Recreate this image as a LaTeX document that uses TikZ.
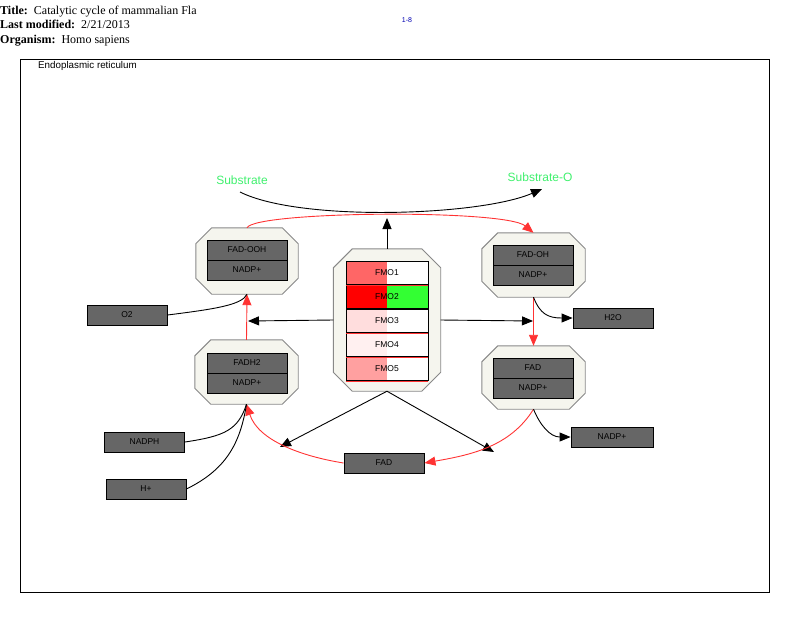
\documentclass[tikz,border=0pt]{standalone}
\usepackage{fontspec}
\setmainfont{Liberation Serif}
\setsansfont{Liberation Sans}
\usetikzlibrary{arrows.meta}
\definecolor{boxgray}{RGB}{102,102,102}
\definecolor{cxfill}{RGB}{245,245,238}
\definecolor{cxline}{RGB}{136,136,136}
\definecolor{rxred}{RGB}{255,51,51}
\definecolor{subgreen}{RGB}{64,240,110}
\definecolor{fmoA}{RGB}{255,102,102}
\definecolor{fmoB}{RGB}{255,0,0}
\definecolor{fmoC}{RGB}{255,221,221}
\definecolor{fmoD}{RGB}{255,240,240}
\definecolor{fmoE}{RGB}{255,160,160}
\definecolor{fmoG}{RGB}{51,255,51}
\tikzset{
  gbox/.style={draw=black, fill=boxgray, line width=0.9pt, minimum width=80pt,
    minimum height=20pt, inner sep=0pt, font=\sffamily\fontsize{8.5}{9}\selectfont},
  cplx/.style={inner sep=0pt},
  fmo/.style 2 args={draw=black, line width=0.9pt, minimum width=82pt,
    minimum height=23pt, inner sep=0pt, font=\sffamily\fontsize{8.5}{9}\selectfont,
    path picture={
      \fill[#1] (path picture bounding box.south west) rectangle (path picture bounding box.north);
      \fill[#2] (path picture bounding box.south) rectangle (path picture bounding box.north east);}},
  blk/.style={line width=0.9pt, -{Triangle[length=11pt,width=9pt]}},
  rxn/.style={line width=0.9pt, rxred, -{Triangle[length=11pt,width=9pt]}},
  plain/.style={line width=0.9pt},
}
\begin{document}
\begin{tikzpicture}[x=1pt,y=-1pt]
\useasboundingbox (0,0) rectangle (799,622);
% header
\node[anchor=base west,inner sep=0pt,font=\fontsize{12}{14}\selectfont] (ttl) at (0,14)
  {\textbf{Title:}\hspace{6pt}Catalytic cycle of mammalian Fla};
\node[anchor=base west,inner sep=0pt,font=\fontsize{12}{14}\selectfont] (lmod) at (0,28)
  {\textbf{Last modified:}\hspace{6pt}2/21/2013};
\node[anchor=base west,inner sep=0pt,font=\fontsize{12}{14}\selectfont] (org) at (0,43)
  {\textbf{Organism:}\hspace{6pt}Homo sapiens};
\node[font=\sffamily\fontsize{7}{8}\selectfont,text=blue!70!black] (pg) at (407,20) {1-8};
% compartment
\draw[line width=0.9pt] (20,59) rectangle (769,592);
\node[anchor=west,inner sep=0pt,font=\sffamily\fontsize{9.8}{11}\selectfont] (er) at (38,66) {Endoplasmic reticulum};
% complexes
\node[cplx,minimum width=102pt,minimum height=66pt] (cxOOH) at (247,261) {};
\node[cplx,minimum width=107pt,minimum height=142pt] (cxFMO) at (387,320) {};
\node[cplx,minimum width=103pt,minimum height=64pt] (cxOH) at (533.5,265) {};
\node[cplx,minimum width=103pt,minimum height=63pt] (cxFAD) at (533.5,377.5) {};
\node[cplx,minimum width=103pt,minimum height=64pt] (cxH2) at (246.5,372) {};
\foreach \c/\k in {cxOOH/16,cxFMO/19,cxOH/16,cxFAD/16,cxH2/16}
  \filldraw[draw=cxline,fill=cxfill,line width=0.9pt]
    ([xshift=\k pt]\c.north west) -- ([xshift=-\k pt]\c.north east)
    -- ([yshift=-\k pt]\c.north east) -- ([yshift=\k pt]\c.south east)
    -- ([xshift=-\k pt]\c.south east) -- ([xshift=\k pt]\c.south west)
    -- ([yshift=\k pt]\c.south west) -- ([yshift=-\k pt]\c.north west) -- cycle;
% complex members
\node[gbox] (ooh1) at (247,250) {FAD-OOH};
\node[gbox] (ooh2) at (247,270) {NADP+};
\node[gbox] (oh1) at (533,255) {FAD-OH};
\node[gbox] (oh2) at (533,275) {NADP+};
\node[gbox] (fad1) at (533,368) {FAD};
\node[gbox] (fad2) at (533,388) {NADP+};
\node[gbox] (h21) at (247,363) {FADH2};
\node[gbox] (h22) at (247,383) {NADP+};
\node[fmo={fmoA}{white}] (fmo1) at (387,273) {FMO1};
\node[fmo={fmoB}{fmoG}] (fmo2) at (387,297) {FMO2};
\node[fmo={fmoC}{white}] (fmo3) at (387,321) {FMO3};
\node[fmo={fmoD}{white}] (fmo4) at (387,345) {FMO4};
\node[fmo={fmoE}{white}] (fmo5) at (387,369) {FMO5};
\foreach \f in {fmo1,fmo3,fmo4,fmo5}
  \draw[rxred,line width=0.9pt] (\f.south west) -- (\f.south east);
% single metabolites
\node[gbox] (o2) at (127,315) {O2};
\node[gbox] (h2o) at (613,318) {H2O};
\node[gbox,minimum width=82pt] (nadpr) at (612,437) {NADP+};
\node[gbox] (nadph) at (144.5,442) {NADPH};
\node[gbox] (hplus) at (146,489) {H+};
\node[gbox] (fadb) at (384,463) {FAD};
% substrate labels
\node[text=subgreen,font=\sffamily\fontsize{12}{13}\selectfont] (sub) at (242,180) {Substrate};
\node[text=subgreen,font=\sffamily\fontsize{12}{13}\selectfont] (subo) at (540,177) {Substrate-O};
% free ends
\coordinate (subin) at (240,192);
\coordinate (subout) at (542,189);
\coordinate (fmoup) at (387,218);
\coordinate (lefttip) at (248,321);
\coordinate (righttip) at (533,321);
\coordinate (lowleft) at (280,447);
\coordinate (lowright) at (494,452);
% connectors
\draw[blk] (subin) .. controls (300,222) and (480,216) .. (subout);
\draw[blk] (cxFMO.north) -- (fmoup);
\draw[rxn] (cxOOH.north) .. controls (255,211) and (505,209) .. (cxOH.north);
\draw[blk] (cxFMO.west) -- (lefttip);
\draw[blk] (cxFMO.east) -- (righttip);
\draw[rxn] (cxH2.north) -- (cxOOH.south);
\draw[plain] (o2.east) .. controls (215,309) and (242,305) .. (cxOOH.south);
\draw[rxn] (cxOH.south) -- (cxFAD.north);
\draw[blk] (cxOH.south) .. controls (540,314) and (548,318) .. (h2o.west);
\draw[blk] (cxFMO.south) -- (lowleft);
\draw[blk] (cxFMO.south) -- (lowright);
\draw[rxn] (cxFAD.south) .. controls (510,447) and (470,455) .. (fadb.east);
\draw[rxn] (fadb.west) .. controls (300,456) and (258,440) .. (cxH2.south);
\draw[blk] (cxFAD.south) .. controls (540,425) and (550,437) .. (nadpr.west);
\draw[plain] (nadph.east) .. controls (225,436) and (238,430) .. (cxH2.south);
\draw[plain] (hplus.east) .. controls (225,470) and (240,445) .. (cxH2.south);
\end{tikzpicture}
\end{document}
